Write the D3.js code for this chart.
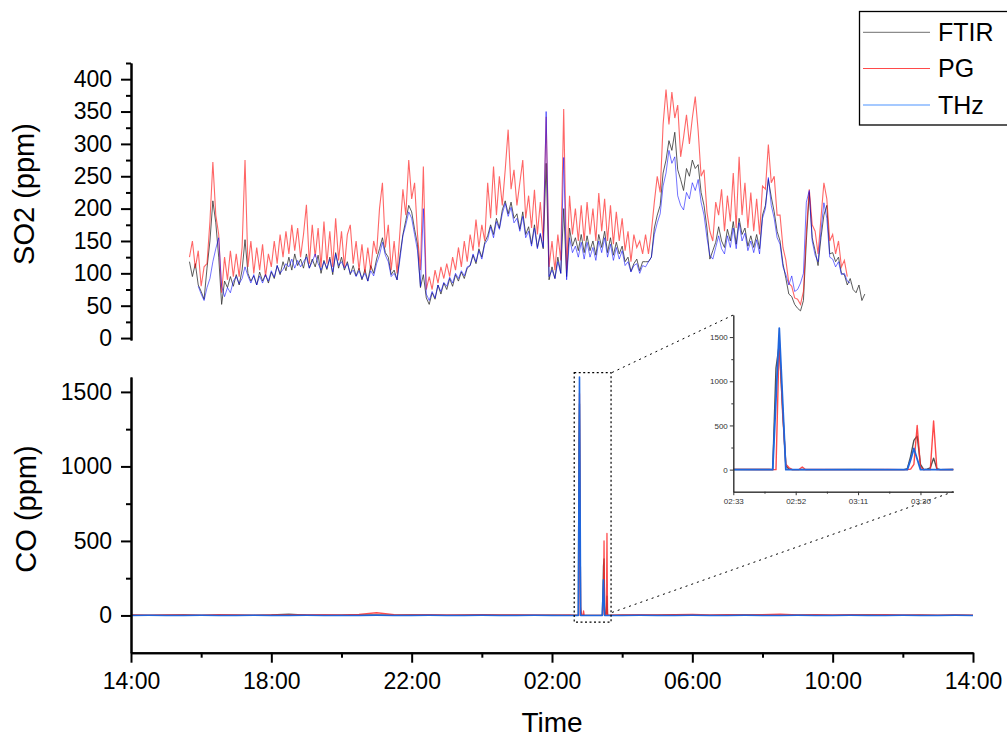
<!DOCTYPE html>
<html><head><meta charset="utf-8">
<script src="https://cdn.jsdelivr.net/npm/d3@7"></script>
<style>body{margin:0;background:#fff} svg{display:block} text{font-family:"Liberation Sans",Arial,sans-serif}</style>
</head><body><svg id="c" width="1007" height="737"></svg>
<script>
// ---------------- DATA ----------------
const seriesNames = ["FTIR", "PG", "THz"];
// SO2 (ppm), sampled every 5 minutes from the given start time
const so2StepMin = 5;
const so2Start = { FTIR: "15:40", PG: "15:40", THz: "15:55" };
const so2FTIR = [
 118,95,115,82,
 72,60,108,150,212,178,125,52,88,78,95,80,
 98,82,105,152,100,88,96,82,102,88,98,85,
 102,92,112,98,118,104,125,105,130,112,122,108,
 130,108,122,110,128,100,120,106,125,98,132,108,
 125,105,118,98,112,96,108,90,106,88,112,100,
 122,138,155,132,125,98,105,90,128,160,182,205,
 195,168,145,78,98,62,52,70,60,82,68,85,
 75,92,80,98,88,102,92,108,112,128,115,138,
 125,148,158,175,160,185,170,198,212,192,210,185,
 192,168,195,160,172,145,175,140,160,138,270,90,
 110,92,125,100,200,95,170,142,155,135,160,132,
 158,135,150,128,160,140,165,132,155,128,148,130,
 142,118,125,103,115,122,104,118,118,118,125,170,
 190,205,255,275,305,290,318,260,245,228,262,250,
 275,262,268,225,205,170,122,135,148,172,150,140,
 168,150,180,145,185,160,170,142,158,140,160,138,
 190,205,245,218,195,165,150,115,92,68,64,52,
 46,42,58,150,225,155,135,112,155,190,205,130,
 132,118,125,100,98,82,92,75,70,82,58,68
];
const so2PG = [
 125,150,108,135,
 80,110,115,180,272,190,160,70,125,90,135,95,
 130,95,140,275,110,150,100,140,105,145,95,130,
 110,150,115,160,125,165,130,175,135,170,125,160,
 206,115,175,125,170,110,180,115,165,110,185,120,
 165,110,160,175,115,150,105,145,100,140,105,150,
 130,200,240,140,175,105,150,100,165,230,190,275,
 215,240,160,105,265,75,95,75,105,85,110,92,
 115,95,125,105,140,110,150,118,160,135,183,140,
 175,150,240,185,265,190,250,205,260,322,230,260,
 205,240,275,185,220,170,229,160,210,150,342,110,
 150,105,160,120,354,105,220,160,200,150,205,150,
 210,160,200,150,224,165,215,150,205,145,195,150,
 185,135,165,118,160,140,150,130,160,130,165,210,
 250,225,330,384,330,380,340,360,280,310,345,300,
 340,373,320,250,260,195,165,150,210,190,230,165,
 220,180,255,170,280,190,240,170,225,165,215,160,
 235,230,299,240,250,190,190,140,120,85,80,62,
 60,52,72,165,230,175,165,130,185,240,215,150,
 160,130,150,110,120,95
];
const so2THz = [
 80,
 68,58,78,92,118,138,155,80,64,78,70,88,
 95,84,92,110,96,85,98,82,96,85,98,88,
 104,94,112,100,106,115,110,122,108,120,110,118,
 125,108,118,130,115,105,118,108,122,102,130,112,
 118,108,115,100,105,95,104,92,100,88,104,96,
 115,128,148,128,118,95,100,90,122,158,175,195,
 185,160,135,80,200,68,58,72,62,82,72,86,
 80,94,85,100,92,104,96,110,112,130,118,135,
 122,145,152,172,155,180,168,192,208,188,202,178,
 185,165,188,155,165,142,170,138,162,140,350,95,
 105,92,118,100,279,90,155,132,142,125,148,122,
 148,125,140,120,150,132,155,125,145,120,140,122,
 135,112,118,102,112,115,100,112,110,118,125,160,
 178,192,235,255,290,270,280,220,205,198,225,215,
 240,228,245,210,190,155,128,122,140,158,138,130,
 158,140,170,138,178,150,162,135,150,132,152,130,
 185,200,248,205,185,155,145,110,98,82,96,72,
 75,85,100,210,228,150,128,118,165,209,185,125,
 122,110,118,98,100,88,85
];
// CO (ppm)
const coTime = [
 "14:00","14:30","15:00","15:30","16:00","16:30","17:00","17:30","18:00","18:30","19:00","19:30","20:00",
 "20:30","21:00","21:30","22:00","22:30","23:00","23:30","00:00","00:30","01:00","01:30","02:00","02:30",
 "02:40","02:44","02:45","02:46","02:47","02:48","02:49","02:50","02:51","02:53","02:54","02:55","03:00",
 "03:10","03:20","03:25","03:26","03:27","03:28","03:29","03:30","03:31","03:32","03:33","03:34","03:35",
 "03:36","03:40",
 "04:00","04:30","05:00","05:30","06:00","06:30","07:00","07:30","08:00","08:30","09:00","09:30","10:00",
 "10:30","11:00","11:30","12:00","12:30","13:00","13:30","14:00"
];
const coFTIR = [
 2,1,2,3,1,2,2,1,3,8,2,1,2,3,4,2,3,2,1,2,3,2,2,1,2,1,
 2,1,0,1150,1420,700,40,5,0,0,3,0,0,1,0,0,10,150,330,380,60,0,5,20,130,10,0,1,
 2,1,2,3,2,1,2,3,2,1,2,2,1,2,3,2,1,2,1,2,1
];
const coPG = [
 3,2,4,3,2,5,3,2,4,3,5,6,4,7,18,6,4,5,3,4,6,3,4,3,2,3,
 1,2,0,0,1490,650,60,20,0,2,30,2,1,0,1,0,0,5,60,500,30,0,0,0,550,0,0,2,
 4,6,3,5,7,4,6,3,5,8,4,6,3,5,4,6,3,4,2,3,2
];
const coTHz = [
 0,1,0,0,1,0,0,1,0,0,1,0,0,0,1,0,0,1,0,0,1,0,0,1,0,0,
 0,0,0,800,1600,800,0,0,0,0,0,0,0,0,0,0,0,110,240,120,0,0,0,0,0,0,0,0,
 0,1,0,0,1,0,0,1,0,0,1,0,0,1,0,0,1,0,0,1,0
];
// Axis ticks
const xDomain = ["14:00", "14:00+"];
const xMajorTicks = ["14:00","18:00","22:00","02:00","06:00","10:00","14:00+"];
const xMinorTicks = ["16:00","20:00","00:00","04:00","08:00","12:00"];
const so2Domain = [-3, 425];
const so2Major = [0,50,100,150,200,250,300,350,400];
const so2Minor = [25,75,125,175,225,275,325,375,425];
const coDomain = [-250, 1600];
const coMajor = [0,500,1000,1500];
const coMinor = [250,750,1250];
const insetXDomain = ["02:33","03:40"];
const insetXMajor = ["02:33","02:52","03:11","03:30"];
const insetXMinor = ["02:42:30","03:01:30","03:20:30"];
const insetYDomain = [-250, 1750];
const insetYMajor = [0,500,1000,1500];
const insetYMinor = [250,750,1250,1750];
const zoomBox = { t0: "02:38", t1: "03:41", v0: -45, v1: 1630 };

// ---------------- HELPERS ----------------
function clock(s) {
  const next = s.endsWith("+");
  const p = s.replace("+","").split(":").map(Number);
  const h = p[0], m = p[1], sec = p[2] || 0;
  const day = (next || h < 14) ? 2 : 1;
  return new Date(2020, 0, day, h, m, sec);
}
function seqTimes(arr) {
  let extra = 0, prev = -Infinity;
  return arr.map(s => {
    let d = clock(s);
    if (d.getTime() + extra < prev) extra += 86400000;
    const t = new Date(d.getTime() + extra);
    prev = t.getTime();
    return t;
  });
}
function so2Series(vals, start) {
  const t0 = clock(start).getTime();
  return vals.map((v, i) => ({ t: new Date(t0 + i * so2StepMin * 60000), v }));
}

// ---------------- DRAW ----------------
const svg = d3.select("#c");
const fmt = d3.timeFormat("%H:%M");
const nfmt = d3.format("d");

const x = d3.scaleTime().domain(xDomain.map(clock)).range([131, 973]);
const yS = d3.scaleLinear().domain(so2Domain).range([340, 63]);
const yC = d3.scaleLinear().domain(coDomain).range([652.7, 377]);

const so2 = {
  FTIR: so2Series(so2FTIR, so2Start.FTIR),
  PG: so2Series(so2PG, so2Start.PG),
  THz: so2Series(so2THz, so2Start.THz)
};
const coT = seqTimes(coTime);
const co = {
  FTIR: coT.map((t, i) => ({ t, v: coFTIR[i] })),
  PG: coT.map((t, i) => ({ t, v: coPG[i] })),
  THz: coT.map((t, i) => ({ t, v: coTHz[i] }))
};

const so2Style = {
  FTIR: { c: "#333333", o: 0.8, w: 1 },
  PG: { c: "#ff0000", o: 0.6, w: 1.1 },
  THz: { c: "#0000ff", o: 0.55, w: 1 }
};
const coStyle = {
  FTIR: { c: "#444444", o: 0.85, w: 1.3 },
  PG: { c: "#ff2020", o: 0.8, w: 1.3 },
  THz: { c: "#1f66dd", o: 1, w: 1.6 }
};
const legendColor = { FTIR: "#8c8c8c", PG: "#ff4a4a", THz: "#4d94ff" };

// SO2 lines
seriesNames.forEach(n => {
  const ln = d3.line().x(d => x(d.t)).y(d => yS(d.v));
  svg.append("path").datum(so2[n]).attr("d", ln).attr("fill", "none")
    .attr("stroke", so2Style[n].c).attr("stroke-opacity", so2Style[n].o)
    .attr("stroke-width", so2Style[n].w).attr("stroke-linejoin", "miter");
});
// CO lines
seriesNames.forEach(n => {
  const ln = d3.line().x(d => x(d.t)).y(d => yC(d.v));
  svg.append("path").datum(co[n]).attr("d", ln).attr("fill", "none")
    .attr("stroke", coStyle[n].c).attr("stroke-opacity", coStyle[n].o)
    .attr("stroke-width", coStyle[n].w).attr("stroke-linejoin", "round");
});

function styleAxis(g, w, fs) {
  g.select(".domain").attr("stroke", "#000").attr("stroke-width", w);
  g.selectAll(".tick line").attr("stroke", "#000").attr("stroke-width", w);
  g.selectAll("text").attr("fill", "#000").style("font-size", fs + "px")
    .style("font-family", '"Liberation Sans", Arial, sans-serif');
}

// SO2 y axis
const gS1 = svg.append("g").attr("transform", "translate(131,0)")
  .call(d3.axisLeft(yS).tickValues(so2Minor).tickSize(5).tickFormat("").tickSizeOuter(0));
styleAxis(gS1, 2, 23);
const gS2 = svg.append("g").attr("transform", "translate(131,0)")
  .call(d3.axisLeft(yS).tickValues(so2Major).tickSize(10).tickPadding(9).tickFormat(nfmt).tickSizeOuter(0));
styleAxis(gS2, 2, 23);

// CO y axis
const gC1 = svg.append("g").attr("transform", "translate(131,0)")
  .call(d3.axisLeft(yC).tickValues(coMinor).tickSize(5).tickFormat("").tickSizeOuter(0));
styleAxis(gC1, 2, 23);
const gC2 = svg.append("g").attr("transform", "translate(131,0)")
  .call(d3.axisLeft(yC).tickValues(coMajor).tickSize(10).tickPadding(9).tickFormat(nfmt).tickSizeOuter(0));
styleAxis(gC2, 2, 23);

// X axis
const gX1 = svg.append("g").attr("transform", "translate(0,652.7)")
  .call(d3.axisBottom(x).tickValues(xMinorTicks.map(clock)).tickSize(5).tickFormat("").tickSizeOuter(0));
styleAxis(gX1, 2, 23);
const gX2 = svg.append("g").attr("transform", "translate(0,652.7)")
  .call(d3.axisBottom(x).tickValues(xMajorTicks.map(clock)).tickSize(10).tickPadding(10).tickFormat(fmt).tickSizeOuter(0));
styleAxis(gX2, 2, 23);

// Axis titles
svg.append("text").attr("x", 552).attr("y", 732).attr("text-anchor", "middle")
  .style("font-size", "28px").text("Time");
svg.append("text").attr("transform", "translate(34,194) rotate(-90)").attr("text-anchor", "middle")
  .style("font-size", "29px").text("SO2 (ppm)");
svg.append("text").attr("transform", "translate(36,509) rotate(-90)").attr("text-anchor", "middle")
  .style("font-size", "29px").text("CO (ppm)");

// Zoom box and connectors
const bx0 = x(clock(zoomBox.t0)), bx1 = x(clock(zoomBox.t1));
const by0 = yC(zoomBox.v1), by1 = yC(zoomBox.v0);
svg.append("rect").attr("x", bx0).attr("y", by0).attr("width", bx1 - bx0).attr("height", by1 - by0)
  .attr("fill", "none").attr("stroke", "#000").attr("stroke-width", 1.2).attr("stroke-dasharray", "2,2.5");

// Inset
const xi = d3.scaleTime().domain(insetXDomain.map(clock)).range([733.3, 953.3]);
const yi = d3.scaleLinear().domain(insetYDomain).range([491.7, 315]);

svg.append("line").attr("x1", bx1 + 1).attr("y1", by0).attr("x2", xi.range()[0]).attr("y2", yi.range()[1])
  .attr("stroke", "#000").attr("stroke-width", 1).attr("stroke-dasharray", "2,4");
svg.append("line").attr("x1", bx1 + 1).attr("y1", yC(20)).attr("x2", xi.range()[1]).attr("y2", yi.range()[0])
  .attr("stroke", "#000").attr("stroke-width", 1).attr("stroke-dasharray", "2,4");

svg.append("clipPath").attr("id", "ic").append("rect")
  .attr("x", 733.3).attr("y", 300).attr("width", 220).attr("height", 191.7);
const gi = svg.append("g").attr("clip-path", "url(#ic)");
const insetStyle = {
  FTIR: { c: "#333333", o: 0.85, w: 1.4 },
  PG: { c: "#ff2a2a", o: 0.85, w: 1.4 },
  THz: { c: "#1f66dd", o: 1, w: 1.8 }
};
seriesNames.forEach(n => {
  const ln = d3.line().x(d => xi(d.t)).y(d => yi(d.v));
  gi.append("path").datum(co[n]).attr("d", ln).attr("fill", "none")
    .attr("stroke", insetStyle[n].c).attr("stroke-opacity", insetStyle[n].o)
    .attr("stroke-width", insetStyle[n].w).attr("stroke-linejoin", "round");
});
const giy1 = svg.append("g").attr("transform", "translate(733.3,0)")
  .call(d3.axisLeft(yi).tickValues(insetYMinor).tickSize(2).tickFormat("").tickSizeOuter(0));
styleAxis(giy1, 1, 8);
const giy2 = svg.append("g").attr("transform", "translate(733.3,0)")
  .call(d3.axisLeft(yi).tickValues(insetYMajor).tickSize(3.5).tickPadding(2).tickFormat(nfmt).tickSizeOuter(0));
styleAxis(giy2, 1, 8);
const gix1 = svg.append("g").attr("transform", "translate(0,491.7)")
  .call(d3.axisBottom(xi).tickValues(insetXMinor.map(clock)).tickSize(2).tickFormat("").tickSizeOuter(0));
styleAxis(gix1, 1, 8);
const gix2 = svg.append("g").attr("transform", "translate(0,491.7)")
  .call(d3.axisBottom(xi).tickValues(insetXMajor.map(clock)).tickSize(3.5).tickPadding(3).tickFormat(fmt).tickSizeOuter(0));
styleAxis(gix2, 1, 8);
[giy1, giy2, gix1, gix2].forEach(g => {
  g.select(".domain").attr("stroke", "#333");
  g.selectAll(".tick line").attr("stroke", "#333");
  g.selectAll("text").attr("fill", "#333");
});

// Legend
const lg = svg.append("g");
lg.append("rect").attr("x", 859.5).attr("y", 11.5).attr("width", 160).attr("height", 113.5)
  .attr("fill", "#fff").attr("stroke", "#000").attr("stroke-width", 1.3);
const lgY = [32.3, 68.5, 105];
seriesNames.forEach((n, i) => {
  lg.append("line").attr("x1", 863).attr("x2", 930).attr("y1", lgY[i]).attr("y2", lgY[i])
    .attr("stroke", legendColor[n]).attr("stroke-width", 1.2);
  lg.append("text").attr("x", 938).attr("y", lgY[i] + 8.5).style("font-size", "25px").text(n);
});
</script></body></html>
